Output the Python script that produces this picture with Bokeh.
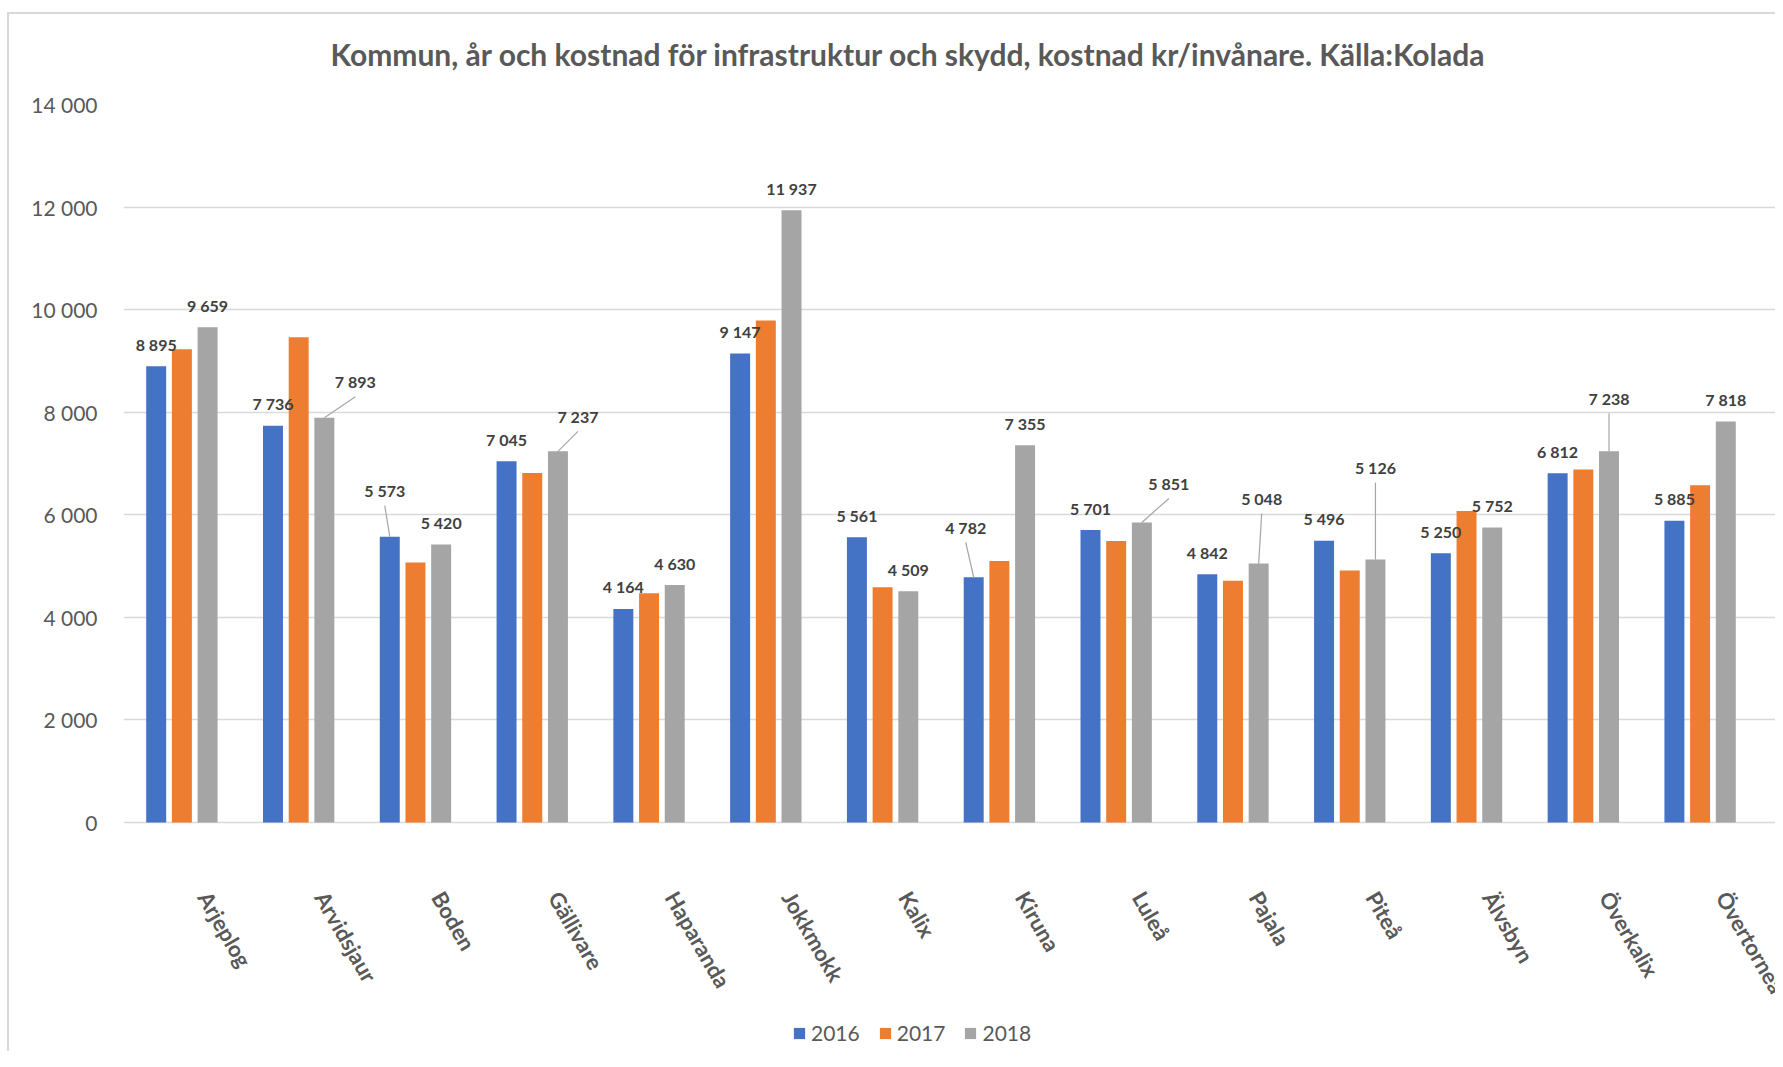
import math
from bokeh.plotting import figure
from bokeh.models import ColumnDataSource, Range1d, FixedTicker, Legend, LegendItem
from bokeh.transform import dodge
from bokeh.core.properties import value
from bokeh.embed import file_html
from bokeh.resources import INLINE

# ---------------- data ----------------
kommuner = ["Arjeplog", "Arvidsjaur", "Boden", "Gällivare", "Haparanda", "Jokkmokk", "Kalix",
            "Kiruna", "Luleå", "Pajala", "Piteå", "Älvsbyn", "Överkalix", "Övertorneå"]
v2016 = [8895, 7736, 5573, 7045, 4164, 9147, 5561, 4782, 5701, 4842, 5496, 5250, 6812, 5885]
v2017 = [9230, 9460, 5070, 6815, 4470, 9790, 4585, 5100, 5490, 4715, 4915, 6075, 6885, 6575]
v2018 = [9659, 7893, 5420, 7237, 4630, 11937, 4509, 7355, 5851, 5048, 5126, 5752, 7238, 7818]
years = ["2016", "2017", "2018"]
y_ticks = [0, 2000, 4000, 6000, 8000, 10000, 12000, 14000]
y_tick_labels = ["0", "2 000", "4 000", "6 000", "8 000", "10 000", "12 000", "14 000"]
title_text = "Kommun, år och kostnad för infrastruktur och skydd, kostnad kr/invånare. Källa:Kolada"

# ---------------- style / layout ----------------
COLORS = ["#4472C4", "#ED7D31", "#A5A5A5"]
FONT = "Lato"
W, H = 1775, 1051
FRAME_L, FRAME_T = 123, 104
CAT_PX = 1635 / 14            # pixel width of one municipality slot
Y_PER_PX = 14000 / 718        # value units per pixel
N = len(kommuner)
X_END = (W - FRAME_L) / CAT_PX                 # frame runs to the right edge
Y_START = -(H - (FRAME_T + 718)) * Y_PER_PX    # frame runs down to the bottom edge (room for names + legend)
DODGE = 0.22
BAR_W = 0.171
DEFAULT_OFF = (0, 22)        # data label offset (px) above the bar
off16 = {2: (-5, 46), 7: (-8, 50)}
off18 = {1: (31, 36), 3: (20, 35), 8: (27, 39), 9: (3, 65), 10: (0, 92), 12: (0, 53)}

def fmt(v):
    return f"{v:,}".replace(",", " ")

pos = [i + 0.5 for i in range(N)]     # centre of each municipality on the x scale
src = ColumnDataSource(dict(pos=pos, kommun=kommuner, base=[0] * N,
                            y2016=v2016, y2017=v2017, y2018=v2018))

p = figure(width=W, height=H, x_range=Range1d(0, X_END), y_range=Range1d(Y_START, 14000),
           output_backend="svg", toolbar_location=None, x_axis_location=None,
           min_border_left=FRAME_L, min_border_right=0,
           min_border_top=FRAME_T, min_border_bottom=0)
p.background_fill_color = "white"
p.border_fill_color = None
p.outline_line_color = None
p.styles = {"background": "linear-gradient(#D9D9D9,#D9D9D9) 7px 12px / 2px calc(100% - 12px) no-repeat, "
                          "linear-gradient(#D9D9D9,#D9D9D9) 7px 12px / calc(100% - 7px) 2px no-repeat, white"}

renderers = []
for k, (col, c) in enumerate(zip(["y2016", "y2017", "y2018"], COLORS)):
    r = p.vbar(x=dodge("pos", (k - 1) * DODGE), top=col, width=BAR_W,
               source=src, fill_color=c, line_color=None)
    renderers.append(r)

# data labels
lx, ly, lt = [], [], []
sx0, sy0, sx1, sy1 = [], [], [], []
for k, vals, offs in [(0, v2016, off16), (2, v2018, off18)]:
    for i, v in enumerate(vals):
        dx, dy = offs.get(i, DEFAULT_OFF)
        bx = pos[i] + (k - 1) * DODGE
        x = bx + dx / CAT_PX
        y = v + dy * Y_PER_PX
        lx.append(x); ly.append(y); lt.append(fmt(v))
        if i in offs:
            sx0.append(x); sy0.append(y - 15 * Y_PER_PX)
            sx1.append(bx); sy1.append(v)

p.segment(x0=sx0, y0=sy0, x1=sx1, y1=sy1, line_color="#A6A6A6", line_width=1.2)
p.text(x=lx, y=ly, text=lt, text_align="center", text_baseline="middle",
       text_font=value(FONT), text_font_style="bold", text_font_size="16px", text_color="#404040")

# municipality names (category labels), rotated like the original
p.text(x="pos", y="base", text="kommun", source=src, angle=-math.radians(60),
       x_offset=34, y_offset=64, text_align="left", text_baseline="top",
       text_font=value(FONT), text_font_style="bold", text_font_size="22px", text_color="#595959")

# title
p.title.text = title_text
p.title.align = "left"
p.title.offset = 207
p.title.text_font = FONT
p.title.text_font_style = "bold"
p.title.text_font_size = "30px"
p.title.text_color = "#595959"
p.title.standoff = 66

# y axis
p.yaxis.ticker = FixedTicker(ticks=y_ticks)
p.yaxis.major_label_overrides = {t: l for t, l in zip(y_ticks, y_tick_labels)}
p.yaxis.axis_line_color = None
p.yaxis.major_tick_line_color = None
p.yaxis.minor_tick_line_color = None
p.yaxis.major_label_standoff = 20
p.yaxis.major_label_text_font = FONT
p.yaxis.major_label_text_font_size = "21px"
p.yaxis.major_label_text_color = "#595959"

p.xgrid.grid_line_color = None
p.ygrid.grid_line_color = "#D9D9D9"
p.ygrid.grid_line_width = 1.5

legend = Legend(items=[LegendItem(label=y, renderers=[r]) for y, r in zip(years, renderers)],
                orientation="horizontal", location=(669, 6), border_line_color=None,
                background_fill_alpha=0, padding=0, margin=0, spacing=18,
                glyph_width=14, glyph_height=14, label_standoff=5, label_height=20,
                label_text_font=FONT, label_text_font_size="21px", label_text_color="#595959")
p.add_layout(legend)

open("out.html", "w").write(file_html(p, INLINE))
